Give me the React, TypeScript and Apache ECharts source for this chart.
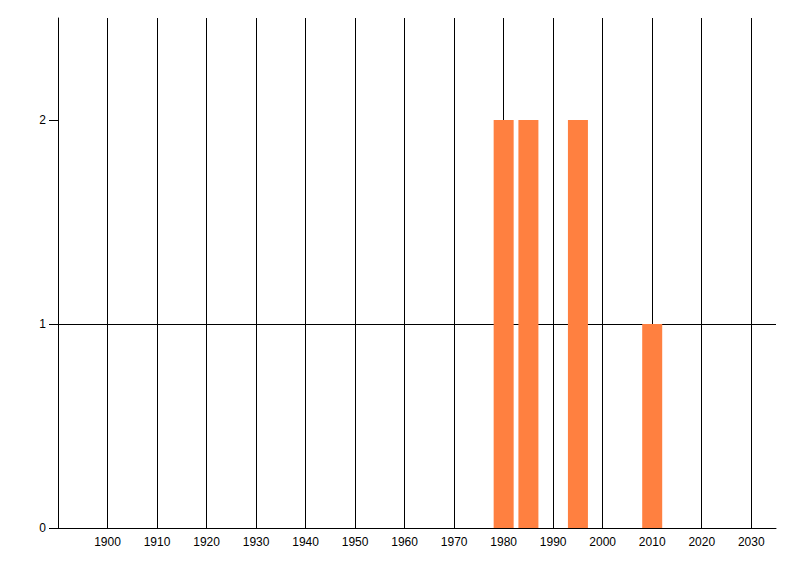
import React, { useEffect, useRef } from "react";
import * as echarts from "echarts";

const years = [1980, 1985, 1995, 2010];
const counts = [2, 2, 2, 1];
const xLabels = [1900, 1910, 1920, 1930, 1940, 1950, 1960, 1970, 1980, 1990, 2000, 2010, 2020, 2030];
const yLabels = [0, 1, 2];

export default function App() {
  const ref = useRef<HTMLDivElement>(null);
  useEffect(() => {
    if (!ref.current) return;
    const chart = echarts.init(ref.current, undefined, { renderer: "svg" });
    const font = { fontFamily: "Liberation Sans", fontSize: 12, color: "#000" };
    chart.setOption({
      animation: false,
      backgroundColor: "#fff",
      grid: { left: 58, right: 24, top: 18, bottom: 48, containLabel: false },
      xAxis: {
        type: "value",
        min: 1890,
        max: 2035,
        interval: 10,
        axisLine: { show: true, lineStyle: { color: "#000", width: 1 } },
        axisTick: { show: false },
        axisLabel: { ...font, margin: 8, customValues: xLabels, formatter: (v: number) => String(v) },
        splitLine: { show: true, showMinLine: false, showMaxLine: false, lineStyle: { color: "#000", width: 1 } },
      },
      yAxis: {
        type: "value",
        min: 0,
        max: 2.5,
        interval: 1,
        axisLine: { show: true, lineStyle: { color: "#000", width: 1 } },
        axisTick: { show: true, length: 9, customValues: yLabels, lineStyle: { color: "#000" } },
        axisLabel: { ...font, margin: 12, customValues: yLabels },
        splitLine: { show: true, showMinLine: false, showMaxLine: false, lineStyle: { color: "#000", width: 1 } },
      },
      series: [
        {
          type: "bar",
          data: years.map((y, i) => [y, counts[i]]),
          barWidth: 20,
          itemStyle: { color: "#ff8040" },
          z: 5,
        },
      ],
    });
    return () => chart.dispose();
  }, []);
  return <div ref={ref} style={{ width: 800, height: 576, position: "absolute", left: 0, top: 0 }} />;
}
